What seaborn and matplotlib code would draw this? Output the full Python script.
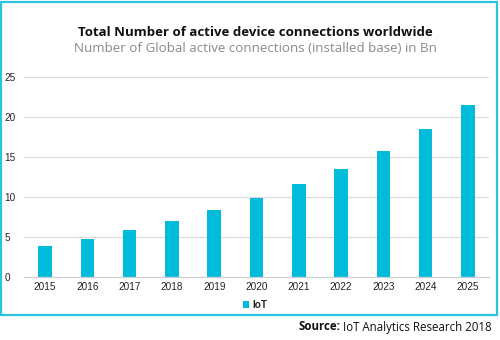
import matplotlib
matplotlib.use("Agg")
import matplotlib.pyplot as plt
import seaborn as sns
import pandas as pd
from matplotlib.patches import Rectangle

years = ["2015", "2016", "2017", "2018", "2019", "2020", "2021", "2022", "2023", "2024", "2025"]
iot = [3.8, 4.7, 5.9, 7.0, 8.3, 9.9, 11.6, 13.5, 15.8, 18.5, 21.5]
series = ["IoT"] * len(years)
yticks = [0, 5, 10, 15, 20, 25]

title = "Total Number of active device connections worldwide"
subtitle = "Number of Global active connections (installed base) in Bn"

bar_color = "#00BCDA"
border_color = "#2BC3DF"

sns.set_theme(style="white")
df = pd.DataFrame({"year": years, "value": iot, "series": series})

fig = plt.figure(figsize=(5, 3.4), dpi=100)
fig.patch.set_facecolor("white")

# outer border
fig.patches.append(Rectangle((0.002, 1 - 315 / 340), 0.992, 313 / 340, transform=fig.transFigure,
                             fill=False, edgecolor=border_color, linewidth=1.6))

ax = fig.add_axes([24 / 500, 1 - 276.7 / 340, (489 - 24) / 500, (276.7 - 77.3) / 340])
sns.barplot(data=df, x="year", y="value", hue="series", palette=[bar_color],
            width=0.32, ax=ax, saturation=1, legend=True, linewidth=0)
ax.set_ylim(0, 25)
ax.set_xlim(-0.5, 10.5)
ax.set_yticks(yticks)
ax.set_xlabel("")
ax.set_ylabel("")
for y in yticks[1:]:
    ax.axhline(y, color="#DADADA", linewidth=0.9, zorder=0)
for s in ["top", "right", "left"]:
    ax.spines[s].set_visible(False)
ax.spines["bottom"].set_color("#CFCFCF")
ax.spines["bottom"].set_linewidth(0.9)
ax.tick_params(axis="both", length=0, labelsize=7.2, colors="#222222", pad=4)
ax.tick_params(axis="y", pad=14)
for lab in ax.get_xticklabels() + ax.get_yticklabels():
    lab.set_fontfamily("Liberation Sans")
for lab in ax.get_yticklabels():
    lab.set_horizontalalignment("left")

leg = ax.legend(loc="upper center", bbox_to_anchor=(0.51, 1 - 295 / 340), bbox_transform=fig.transFigure,
                frameon=False, prop={"family": "Liberation Sans", "size": 7.2, "weight": "bold"},
                handlelength=0.6, handleheight=0.6, handletextpad=0.3, borderpad=0)

fig.text(0.51, 1 - 33 / 340, title, ha="center", va="center", fontsize=9.5, fontweight="bold",
         family="Open Sans", color="#111111")
fig.text(0.51, 1 - 48.5 / 340, subtitle, ha="center", va="center", fontsize=9.6,
         family="Open Sans", color="#8A8A8A")

t_src = fig.text(0.984, 1 - 327 / 340, "IoT Analytics Research 2018", ha="right", va="center",
                 fontsize=8.3, family="Open Sans", color="#111111")
fig.canvas.draw()
bb = t_src.get_window_extent()
fig.text(bb.x0 / 500 - 0.006, 1 - 327 / 340, "Source:", ha="right", va="center", fontsize=8.3,
         fontweight="bold", family="Open Sans", color="#111111")

fig.savefig("out.png", dpi=100)
